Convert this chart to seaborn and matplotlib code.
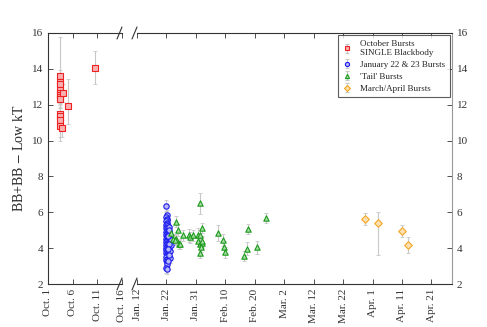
import numpy as np
import matplotlib
matplotlib.use("Agg")
import matplotlib.pyplot as plt
import seaborn as sns
import pandas as pd

# October bursts (day of October)
oct_day = [3.4, 3.4, 3.4, 3.4, 3.4, 3.4, 3.4, 3.4, 4.1, 5.0, 3.4, 3.4, 3.4, 3.4, 3.8, 10.5]
oct_val = [13.62, 13.25, 13.14, 12.82, 12.67, 12.54, 12.45, 12.32, 12.63, 11.93,
           11.48, 11.37, 11.15, 10.81, 10.72, 14.03]
oct_lo = [0.5, 0.6, 0.4, 0.5, 0.6, 0.5, 2.5, 0.5, 0.5, 1.03, 0.5, 0.6, 0.5, 0.6, 0.5, 0.9]
oct_hi = [0.3, 0.5, 0.4, 0.5, 0.5, 0.4, 3.35, 0.5, 0.5, 1.5, 0.5, 0.5, 0.5, 0.5, 0.43, 0.97]

# January 22 & 23 bursts (day of January)
jan_day = [22.0, 22.1, 22.0, 22.2, 22.1, 22.0, 22.3, 22.1, 22.0, 22.2,
           22.1, 22.0, 22.2, 22.3, 22.1, 22.0, 22.2, 22.1, 22.0, 22.3,
           22.1, 22.2, 22.0, 22.1, 22.3, 22.2, 22.0, 22.1, 22.2, 22.0,
           22.1, 22.3, 22.0, 22.2, 22.1, 22.0, 22.2, 22.1, 22.0, 22.3,
           22.1, 22.2, 22.0, 22.1, 22.0, 22.2, 22.1, 22.3, 22.0, 22.1,
           22.8, 23.0, 23.3, 22.9, 23.1, 23.4, 22.7, 23.2, 22.9, 23.5,
           22.6, 23.0, 22.8, 22.4, 22.5]
jan_val = [6.35, 5.85, 5.75, 5.65, 5.55, 5.5, 5.42, 5.35, 5.3, 5.22,
           5.15, 5.1, 5.05, 4.98, 4.92, 4.88, 4.82, 4.78, 4.72, 4.68,
           4.62, 4.58, 4.52, 4.48, 4.42, 4.38, 4.32, 4.28, 4.22, 4.18,
           4.12, 4.08, 4.02, 3.98, 3.92, 3.88, 3.82, 3.78, 3.72, 3.68,
           3.62, 3.55, 3.5, 3.42, 3.35, 3.28, 3.2, 3.1, 2.9, 2.84,
           4.9, 4.6, 4.3, 4.05, 3.85, 4.45, 5.2, 3.45, 3.6, 4.15,
           4.7, 5.0, 4.25, 3.3, 3.95]
jan_err = [0.35, 0.3, 0.3, 0.25, 0.3, 0.25, 0.3, 0.25, 0.3, 0.25,
           0.3, 0.25, 0.3, 0.25, 0.3, 0.25, 0.3, 0.25, 0.3, 0.25,
           0.3, 0.25, 0.3, 0.25, 0.3, 0.25, 0.3, 0.25, 0.3, 0.25,
           0.3, 0.25, 0.3, 0.25, 0.3, 0.25, 0.3, 0.25, 0.3, 0.25,
           0.3, 0.25, 0.3, 0.25, 0.3, 0.25, 0.3, 0.25, 0.3, 0.3,
           0.35, 0.3, 0.3, 0.35, 0.3, 0.4, 0.35, 0.3, 0.3, 0.35,
           0.3, 0.35, 0.3, 0.3, 0.3]

# 'Tail' bursts (day counted from Jan 1)
tail_day = [25.4, 25.8, 24.1, 25.3, 26.4, 26.7, 27.6, 29.6, 30.1, 30.9,
            32.6, 33.4, 33.5, 32.6, 33.5, 34.0, 34.1, 33.8, 33.5, 34.1,
            23.6, 24.8, 39.4, 41.2, 41.4, 41.9, 48.2, 49.2, 49.6, 52.8, 55.8]
tail_val = [5.47, 5.01, 4.49, 4.49, 4.23, 4.23, 4.72, 4.72, 4.6, 4.72,
            4.75, 4.72, 6.5, 4.42, 4.23, 4.3, 4.38, 4.08, 3.71, 5.12,
            4.83, 4.45, 4.83, 4.45, 4.05, 3.77, 3.56, 3.97, 5.07, 4.05, 5.68]
tail_err = [0.3, 0.35, 0.3, 0.3, 0.25, 0.3, 0.3, 0.35, 0.3, 0.3,
            0.35, 0.3, 0.58, 0.3, 0.3, 0.3, 0.3, 0.3, 0.25, 0.3,
            0.4, 0.3, 0.45, 0.35, 0.35, 0.3, 0.3, 0.35, 0.3, 0.35, 0.3]

# March/April bursts (day counted from Jan 1)
ma_day = [89.5, 93.8, 102.1, 104.1]
ma_val = [5.61, 5.38, 4.97, 4.16]
ma_lo = [0.34, 1.78, 0.33, 0.45]
ma_hi = [0.33, 0.64, 0.34, 0.48]

left_ticks = [1, 6, 11, 16]
left_labels = ["Oct. 1", "Oct. 6", "Oct. 11", "Oct. 16"]
right_ticks = [12, 22, 32, 42, 52, 62, 72, 82, 92, 102, 112]
right_labels = ["Jan. 12", "Jan. 22", "Jan. 31", "Feb. 10", "Feb. 20", "Mar. 2",
                "Mar. 12", "Mar. 22", "Apr. 1", "Apr. 11", "Apr. 21"]
y_ticks = [2, 4, 6, 8, 10, 12, 14, 16]

sns.set_theme(style="ticks")
plt.rcParams['font.family'] = ['Liberation Serif', 'DejaVu Serif']
plt.rcParams['mathtext.fontset'] = 'stix'

W, H = 487, 327
fig = plt.figure(figsize=(W / 100, H / 100), dpi=100)
bot = (H - 284) / H
ht = 251 / H
ax1 = fig.add_axes([48 / W, bot, 74 / W, ht])
ax2 = fig.add_axes([137 / W, bot, 315 / W, ht])

ecol = "#c8c8c8"
groups = [
    (ax1, oct_day, oct_val, [oct_lo, oct_hi], "s", "#ee2222", "#f8b0b0",
     "October Bursts\nSINGLE Blackbody"),
    (ax2, jan_day, jan_val, jan_err, "o", "#1a1aee", "#b8b8f8",
     "January 22 & 23 Bursts"),
    (ax2, tail_day, tail_val, tail_err, "^", "#1a9a1a", "#a8dca8",
     "'Tail' Bursts"),
    (ax2, ma_day, ma_val, [ma_lo, ma_hi], "D", "#f5a623", "#fbe0b0",
     "March/April Bursts"),
]

handles = []
for ax, xd, yd, err, mk, ec, fc, lab in groups:
    ax.errorbar(xd, yd, yerr=err, fmt="none", ecolor=ecol, elinewidth=0.8,
                capsize=1.5, capthick=0.6, zorder=1)
    df = pd.DataFrame({"x": xd, "y": yd})
    sns.scatterplot(data=df, x="x", y="y", ax=ax, marker=mk, s=15,
                    facecolor=fc, edgecolor=ec, linewidth=0.8, zorder=3,
                    legend=False)
    h = ax2.errorbar([np.nan], [np.nan], yerr=[0.5], fmt=mk, ms=3,
                     mfc=fc, mec=ec, mew=0.8, ecolor=ecol, elinewidth=0.8,
                     capsize=1.5, label=lab)
    handles.append(h)

for ax in (ax1, ax2):
    ax.set_ylim(2, 16)
    ax.set_yticks(y_ticks)
    ax.set_xlabel("")
    ax.set_ylabel("")
    ax.tick_params(direction="in", length=3.5, width=0.6, labelsize=8,
                   colors="#333333", top=True)
    for s in ax.spines.values():
        s.set_linewidth(0.8)
        s.set_color("#333333")

ax1.set_xlim(1, 16)
ax1.set_xticks(left_ticks)
ax1.set_xticklabels(left_labels, rotation=90)
ax1.spines["right"].set_visible(False)
ax1.tick_params(axis="y", left=True, right=False)
ax1.set_ylabel("BB+BB $-$ Low kT", fontsize=10, labelpad=4)

ax2.set_xlim(12, 119)
ax2.set_xticks(right_ticks)
ax2.set_xticklabels(right_labels, rotation=90)
ax2.spines["left"].set_visible(False)
ax2.spines["right"].set_color("#999999")
ax2.yaxis.tick_right()
ax2.tick_params(axis="y", left=False, right=True, labelleft=False, labelright=True)

# break marks
for px in (119.5, 134.5):
    for py in (284, 33):
        fy = (H - py) / H
        fig.add_artist(plt.Line2D([(px - 2.5) / W, (px + 2.5) / W],
                                  [fy - 6 / H, fy + 6 / H], color="#333333",
                                  lw=0.8, transform=fig.transFigure))

leg = ax2.legend(handles=handles, loc="upper right", fontsize=6.5,
                 frameon=True, fancybox=False, edgecolor="#333333",
                 handlelength=1.2, borderpad=0.5, labelspacing=0.4,
                 bbox_to_anchor=(1.0, 1.0), borderaxespad=0.25)
leg.get_frame().set_linewidth(0.8)

fig.savefig("out.png", dpi=100)
